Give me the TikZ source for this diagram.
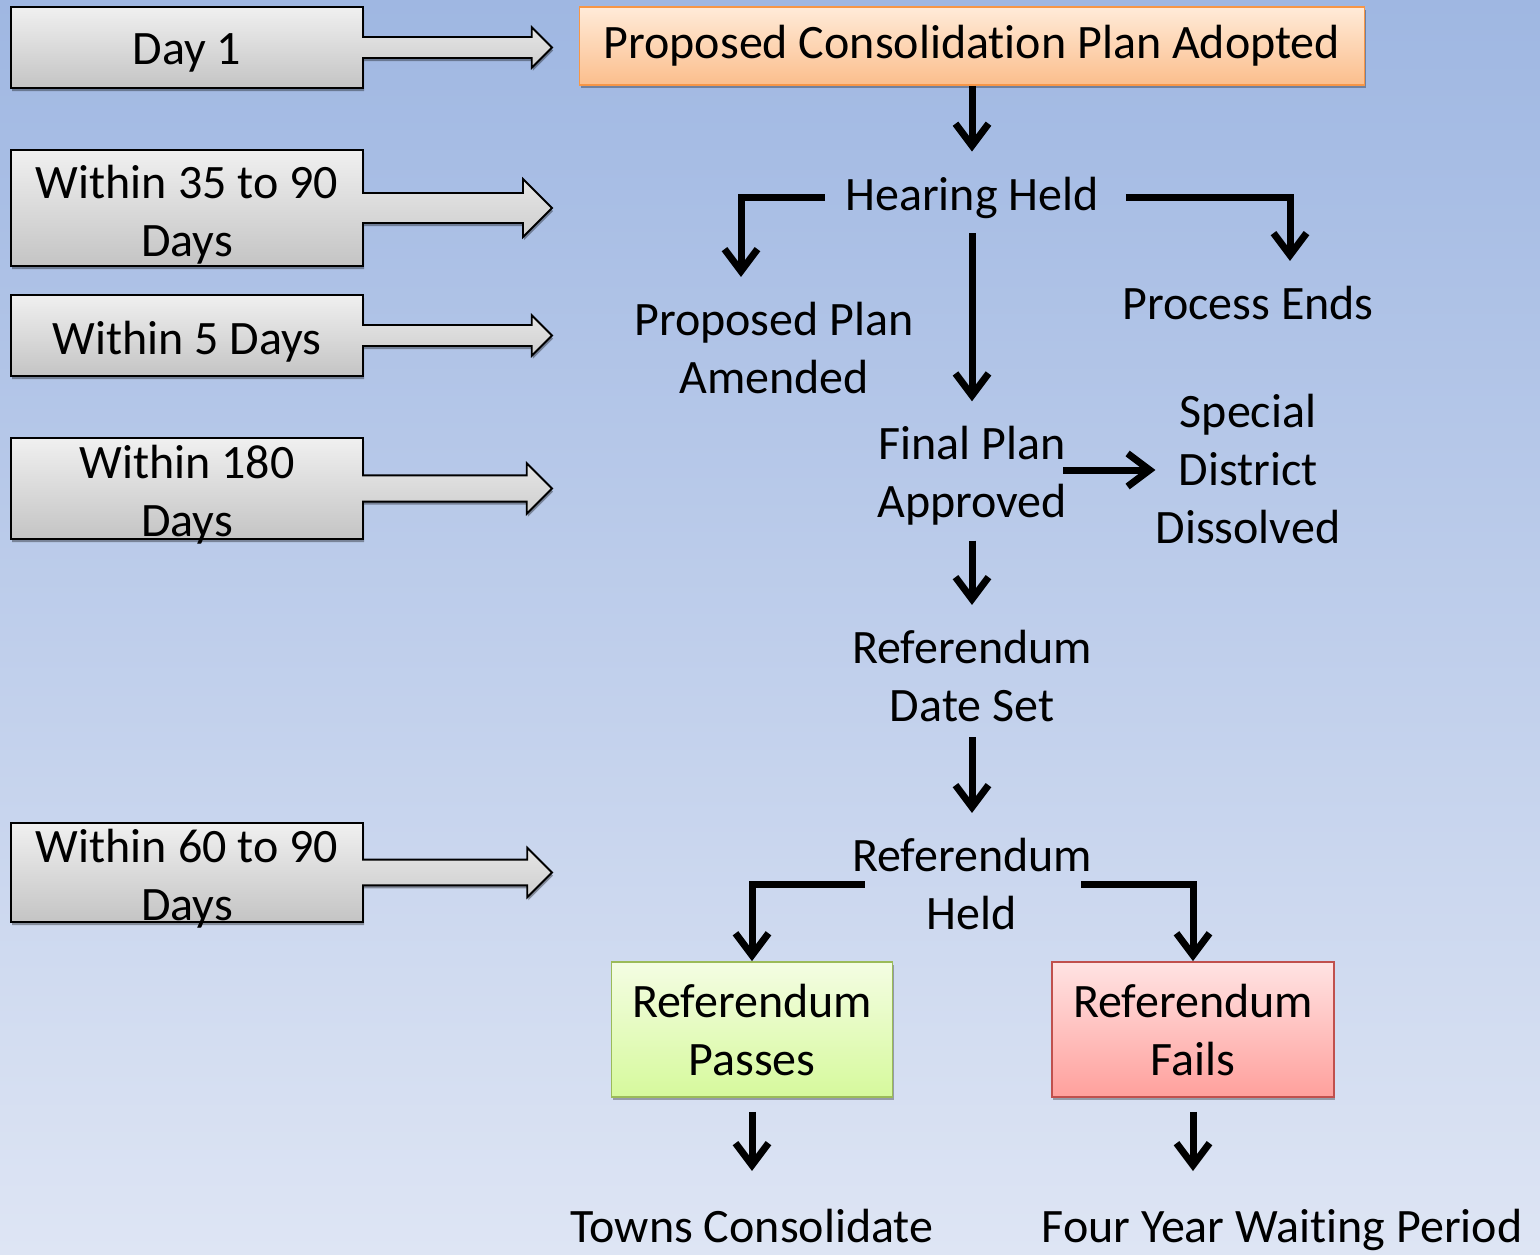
\documentclass[tikz,border=0pt]{standalone}
\usepackage{fontspec}
\setmainfont{Carlito}[Ligatures=NoCommon]
\usetikzlibrary{positioning, arrows.meta, calc, shadows}

\definecolor{bgtop}{HTML}{9FB7E2}
\definecolor{bgmid}{HTML}{B4C7EA}
\definecolor{bgbot}{HTML}{DEE5F4}
\definecolor{graytop}{HTML}{F0F0F0}
\definecolor{graybot}{HTML}{C4C4C4}
\definecolor{orgtop}{HTML}{FFEBD9}
\definecolor{orgbot}{HTML}{FBBE8C}
\definecolor{orgline}{HTML}{F79646}
\definecolor{grntop}{HTML}{F4FDE3}
\definecolor{grnbot}{HTML}{D6F99C}
\definecolor{grnline}{HTML}{9BBB59}
\definecolor{redtop}{HTML}{FFE3E3}
\definecolor{redbot}{HTML}{FFA09C}
\definecolor{redline}{HTML}{C0504D}

\begin{document}
\begin{tikzpicture}[
        x=1pt, y=-1pt,
        txt/.style={font=\fontsize{48}{58}\selectfont, align=center, inner sep=0pt},
        callout/.style={draw=black, line width=1.8pt, top color=graytop, bottom color=graybot, drop shadow={shadow xshift=1pt, shadow yshift=-3pt, opacity=0.35, fill=black}},
        stage/.style={rectangle, txt, line width=1.8pt, drop shadow={shadow xshift=1pt, shadow yshift=-3pt, opacity=0.3, fill=black}},
        flow/.style={line width=7pt, -{Straight Barb[length=22pt, width=33pt]}, shorten <=15pt, shorten >=25pt}
    ]
    
    % Background
    \useasboundingbox (0,0) rectangle (1540,1254);
    \shade[top color=bgtop, middle color=bgmid, bottom color=bgbot] (0,0) rectangle (1540,1254);
    
    % Left: time line callouts
    \foreach \nm/\yc/\hh/\ty/\txt in {day1/47.5/81/52.5/{Day 1}, within35/208/116/214.5/{Within 35 to 90\\Days}, within5/335.5/81/341.5/{Within 5 Days}, within180/488.5/101/494.5/{Within 180\\Days}, within60/872.5/99/878.5/{Within 60 to 90\\Days}}{
        \pgfmathsetmacro\sh{0.13*\hh}
        \pgfmathsetmacro\ah{0.25*\hh}
        \pgfmathsetmacro\al{552-0.25*\hh}
        \path[callout] (11,\yc-\hh/2) -- (363,\yc-\hh/2) -- (363,\yc-\sh) -- (\al,\yc-\sh) -- (\al,\yc-\ah) -- (552,\yc) -- (\al,\yc+\ah) -- (\al,\yc+\sh) -- (363,\yc+\sh) -- (363,\yc+\hh/2) -- (11,\yc+\hh/2) -- cycle;
        \node[txt] (\nm) at (187,\ty) {\txt};
    }
    
    % Top: adopted plan
    \node[stage, draw=orgline, top color=orgtop, bottom color=orgbot, minimum width=785pt, minimum height=78pt] (adopt) at (972,46) {Proposed Consolidation Plan Adopted};
    
    % Hearing and its outcomes
    \node[txt] (hear) at (972,197.5) {Hearing Held};
    \node[txt] (amend) at (774,348) {Proposed Plan\\Amended};
    \node[txt] (ends) at (1248,303) {Process Ends};
    \node[txt] (final) at (972,476) {Final Plan\\Approved};
    \node[txt] (dissolve) at (1248,469) {Special\\District\\Dissolved};
    
    % Referendum
    \node[txt] (dateset) at (972,676) {Referendum\\Date Set};
    \node[txt] (held) at (972,884) {Referendum\\Held};
    \node[stage, draw=grnline, top color=grntop, bottom color=grnbot, minimum width=281pt, minimum height=135pt] (pass) at (752,1029.5) {Referendum\\Passes};
    \node[stage, draw=redline, top color=redtop, bottom color=redbot, minimum width=282pt, minimum height=135pt] (fail) at (1193,1029.5) {Referendum\\Fails};
    
    % Bottom: results
    \node[txt] (towns) at (752,1226) {Towns Consolidate};
    \node[txt] (wait) at (1282,1230) {Four Year Waiting Period};
    
    % Arrows
    \draw[flow, shorten <=0pt] (adopt) -- (hear);
    \draw[flow, shorten <=20pt] (hear.west) -| ([xshift=-33pt]amend.north);
    \draw[flow, shorten <=27pt] (hear.east) -| ([xshift=42pt]ends.north);
    \draw[flow] (hear) -- (final);
    \draw[flow, shorten <=-4pt, shorten >=0pt] ([yshift=6pt]final.east) -- ([yshift=6pt]final.east -| dissolve.west);
    \draw[flow] (final) -- (dateset);
    \draw[flow] (dateset) -- (held);
    \draw[flow, shorten <=0pt, shorten >=0pt] ([xshift=13pt]held.west) -| (pass.north);
    \draw[flow, shorten <=0pt, shorten >=0pt] ([xshift=-11pt]held.east) -| (fail.north);
    \draw[flow, shorten <=14pt, shorten >=38pt] (pass) -- (towns);
    \draw[flow, shorten <=14pt, shorten >=38pt] (fail) -- (fail |- wait.north);
    
    \end{tikzpicture}
\end{document}
